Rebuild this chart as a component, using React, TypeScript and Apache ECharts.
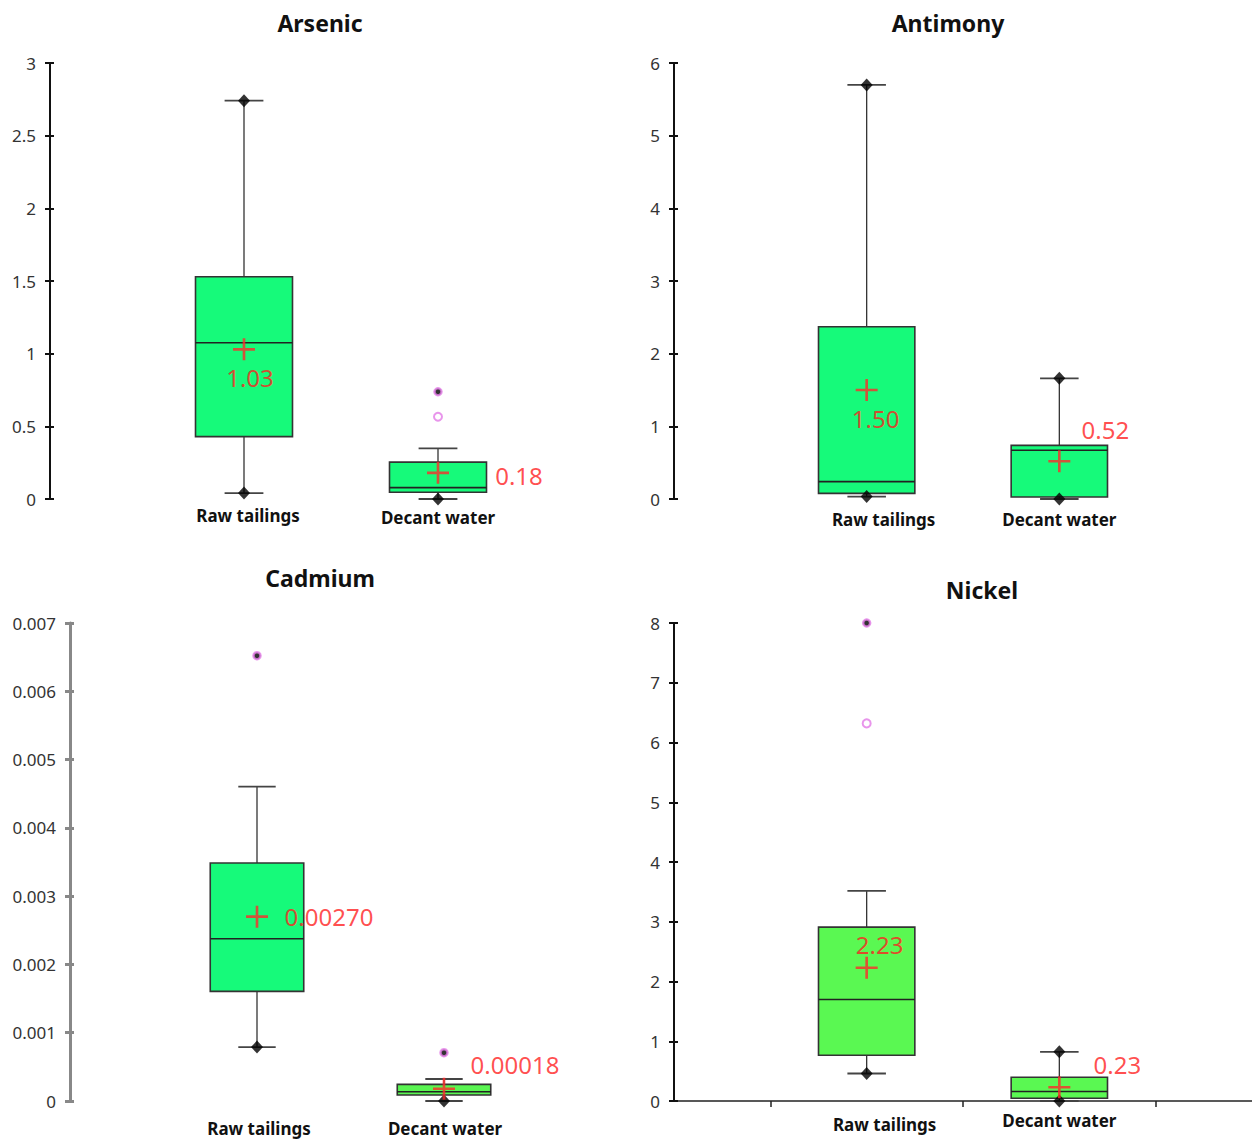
import React, { useEffect, useRef } from 'react';
import * as echarts from 'echarts';

const categories = ['Raw tailings', 'Decant water'];
const panelTitles = ['Arsenic', 'Antimony', 'Cadmium', 'Nickel'];

// [lower whisker, Q1, median, Q3, upper whisker] for Raw tailings, Decant water
const arsenicBox = [[0.041, 0.429, 1.075, 1.529, 2.741], [0, 0.046, 0.078, 0.254, 0.349]];
const antimonyBox = [[0.033, 0.078, 0.239, 2.37, 5.698], [0, 0.028, 0.67, 0.738, 1.66]];
const cadmiumBox = [[0.00079, 0.001606, 0.002377, 0.003485, 0.004603], [0, 0.000088, 0.000136, 0.000244, 0.000322]];
const nickelBox = [[0.46, 0.765, 1.7, 2.91, 3.516], [0, 0.045, 0.16, 0.397, 0.823]];

// means
const arsenicMean = [1.03, 0.18];
const antimonyMean = [1.5, 0.52];
const cadmiumMean = [0.0027, 0.00018];
const nickelMean = [2.23, 0.23];
const arsenicMeanLabels = ['1.03', '0.18'];
const antimonyMeanLabels = ['1.50', '0.52'];
const cadmiumMeanLabels = ['0.00270', '0.00018'];
const nickelMeanLabels = ['2.23', '0.23'];

// minimum / maximum markers (diamonds)
const arsenicExtremes = [[0.041, 2.741], [0]];
const antimonyExtremes = [[0.033, 5.698], [0, 1.66]];
const cadmiumExtremes = [[0.00079], [0]];
const nickelExtremes = [[0.46], [0, 0.823]];

// outliers that are the maximum (filled dot)
const arsenicMaxOutliers = [[], [0.738]];
const antimonyMaxOutliers = [[], []];
const cadmiumMaxOutliers = [[0.006521], [0.000707]];
const nickelMaxOutliers = [[8.0], []];

// other outliers (open circles)
const arsenicOutliers = [[], [0.566]];
const antimonyOutliers = [[], []];
const cadmiumOutliers = [[], []];
const nickelOutliers = [[6.32], []];

// y axis ticks
const yMaxes = [3, 6, 0.007, 8];
const yIntervals = [0.5, 1, 0.001, 1];

const boxes = [arsenicBox, antimonyBox, cadmiumBox, nickelBox];
const means = [arsenicMean, antimonyMean, cadmiumMean, nickelMean];
const meanLabels = [arsenicMeanLabels, antimonyMeanLabels, cadmiumMeanLabels, nickelMeanLabels];
const extremes = [arsenicExtremes, antimonyExtremes, cadmiumExtremes, nickelExtremes];
const maxOutliers = [arsenicMaxOutliers, antimonyMaxOutliers, cadmiumMaxOutliers, nickelMaxOutliers];
const outliers = [arsenicOutliers, antimonyOutliers, cadmiumOutliers, nickelOutliers];

// ---- layout & style (not data) ----
const FONT = "'Noto Sans', 'DejaVu Sans', sans-serif";
const CROSS = 'path://M8.8,0h2.4v8.8h8.8v2.4h-8.8v8.8h-2.4v-8.8h-8.8v-2.4h8.8z';
const slotIndex = [2, 4];
const slots = ['s0', 's1', categories[0], 's3', categories[1], 's5', 's6'];
const grids = [
  { left: 50, top: 63, width: 582, height: 436 },
  { left: 674, top: 63, width: 578, height: 436 },
  { left: 70, top: 623, width: 561, height: 478 },
  { left: 674, top: 623, width: 578, height: 478 },
];
const titlePos = [[320, 23], [948, 23], [320, 578], [982, 590]];
const boxFills = [
  ['#16FA7A', '#16FA7A'],
  ['#16FA7A', '#16FA7A'],
  ['#16FA7A', '#5AF552'],
  ['#5AF852', '#5AF852'],
];
const axisColors = ['#111', '#111', '#888', '#111'];
const axisWidths = [2, 2, 3, 2];
// [margin, raw dx, raw dy, decant dx, decant dy]
const catLabelPos = [
  [8, 4, 0, 0, 2],
  [12, 17, 0, 0, 0],
  [19, 2, 0, 1, 0],
  [11, 18, 4, 0, 0],
];
const meanOffsets = [
  [[6, 28], [81, 3]],
  [[9, 28], [46, -32]],
  [[72, 0], [71, -24]],
  [[13, -23], [58, -23]],
];

function boxRenderer(fills: string[]) {
  return (params: any, api: any) => {
    const x = api.value(0);
    const k = params.dataIndex;
    const lo = api.coord([x, api.value(1)]);
    const q1 = api.coord([x, api.value(2)]);
    const md = api.coord([x, api.value(3)]);
    const q3 = api.coord([x, api.value(4)]);
    const hi = api.coord([x, api.value(5)]);
    const step = Math.abs(api.coord([x + 1, 0])[0] - api.coord([x, 0])[0]);
    const bw = step;
    const cw = step * 0.4;
    const cx = q1[0];
    const line = (x1: number, y1: number, x2: number, y2: number, w: number, c: string) => ({
      type: 'line',
      shape: { x1, y1, x2, y2 },
      style: { stroke: c, lineWidth: w },
    });
    return {
      type: 'group',
      children: [
        line(cx, lo[1], cx, q1[1], 1.3, '#333'),
        line(cx, q3[1], cx, hi[1], 1.3, '#333'),
        line(cx - cw / 2, lo[1], cx + cw / 2, lo[1], 1.8, '#444'),
        line(cx - cw / 2, hi[1], cx + cw / 2, hi[1], 1.8, '#444'),
        {
          type: 'rect',
          shape: { x: cx - bw / 2, y: q3[1], width: bw, height: q1[1] - q3[1] },
          style: { fill: fills[k], stroke: '#333', lineWidth: 1.6 },
        },
        line(cx - bw / 2, md[1], cx + bw / 2, md[1], 1.6, '#222'),
      ],
    };
  };
}

function buildOption() {
  const xAxis: any[] = [];
  const yAxis: any[] = [];
  const series: any[] = [];

  for (let i = 0; i < 4; i++) {
    const [margin, rdx, rdy, ddx, ddy] = catLabelPos[i];
    const isNickel = i === 3;
    xAxis.push({
      gridIndex: i,
      type: 'category',
      data: slots,
      boundaryGap: false,
      axisLine: { show: isNickel, onZero: false, lineStyle: { color: '#222', width: 1.5 } },
      axisTick: {
        show: isNickel,
        length: 6,
        interval: (idx: number) => idx % 2 === 1,
        lineStyle: { color: '#222', width: 1.5 },
      },
      axisLabel: {
        show: true,
        interval: (idx: number) => idx === 2 || idx === 4,
        margin,
        formatter: (v: string) =>
          v === categories[0] ? `{r|${v}}` : v === categories[1] ? `{d|${v}}` : '',
        rich: {
          r: { padding: [rdy, 0, 0, 2 * rdx], fontSize: 17, fontWeight: 'bold', color: '#111', fontFamily: FONT },
          d: { padding: [ddy, 0, 0, 2 * ddx], fontSize: 17, fontWeight: 'bold', color: '#111', fontFamily: FONT },
        },
      },
      splitLine: { show: false },
    });

    const fmt = (v: number) => (i === 2 ? (v === 0 ? '0' : v.toFixed(3)) : String(v));
    yAxis.push({
      gridIndex: i,
      type: 'value',
      position: 'left',
      min: 0,
      max: yMaxes[i],
      interval: yIntervals[i],
      axisLine: { show: true, onZero: false, lineStyle: { color: axisColors[i], width: axisWidths[i] } },
      axisTick: { show: true, length: 5, lineStyle: { color: axisColors[i], width: axisWidths[i] } },
      axisLabel: { margin: 14, fontSize: 17, color: '#333', fontFamily: FONT, formatter: fmt },
      splitLine: { show: false },
    });
    yAxis.push({
      gridIndex: i,
      type: 'value',
      position: 'left',
      min: 0,
      max: yMaxes[i],
      interval: yIntervals[i],
      axisLine: { show: false, onZero: false },
      axisTick: { show: true, inside: true, length: 4, lineStyle: { color: axisColors[i], width: axisWidths[i] } },
      axisLabel: { show: false },
      splitLine: { show: false },
    });

    const yIdx = 2 * i;
    series.push({
      type: 'custom',
      xAxisIndex: i,
      yAxisIndex: yIdx,
      z: 2,
      encode: { x: 0, y: [1, 2, 3, 4, 5] },
      data: boxes[i].map((b, k) => [slotIndex[k], ...b]),
      renderItem: boxRenderer(boxFills[i]),
    });

    const extData: number[][] = [];
    extremes[i].forEach((vals, k) => vals.forEach((v) => extData.push([slotIndex[k], v])));
    series.push({
      type: 'scatter',
      xAxisIndex: i,
      yAxisIndex: yIdx,
      z: 4,
      symbol: 'diamond',
      symbolSize: [12, 13],
      itemStyle: { color: '#000' },
      data: extData,
    });

    const maxData: number[][] = [];
    maxOutliers[i].forEach((vals, k) => vals.forEach((v) => maxData.push([slotIndex[k], v])));
    series.push({
      type: 'scatter',
      xAxisIndex: i,
      yAxisIndex: yIdx,
      z: 4,
      symbol: 'circle',
      symbolSize: 7,
      itemStyle: { color: '#000', borderColor: '#E27AE6', borderWidth: 2.5 },
      data: maxData,
    });

    const outData: number[][] = [];
    outliers[i].forEach((vals, k) => vals.forEach((v) => outData.push([slotIndex[k], v])));
    series.push({
      type: 'scatter',
      xAxisIndex: i,
      yAxisIndex: yIdx,
      z: 4,
      symbol: 'circle',
      symbolSize: 8,
      itemStyle: { color: '#fff', borderColor: '#E27AE6', borderWidth: 2 },
      data: outData,
    });

    series.push({
      type: 'scatter',
      xAxisIndex: i,
      yAxisIndex: yIdx,
      z: 5,
      symbol: CROSS,
      symbolSize: 22,
      itemStyle: { color: '#FF2B2B' },
      label: {
        show: true,
        position: 'inside',
        fontSize: 24,
        color: '#FF1F1F',
        fontFamily: FONT,
      },
      data: means[i].map((m, k) => ({
        value: [slotIndex[k], m],
        label: { formatter: meanLabels[i][k], offset: meanOffsets[i][k] },
      })),
    });
  }

  return {
    animation: false,
    backgroundColor: '#fff',
    grid: grids.map((g) => ({ ...g, containLabel: false })),
    xAxis,
    yAxis,
    series,
    graphic: panelTitles.map((t, i) => ({
      type: 'text',
      x: titlePos[i][0],
      y: titlePos[i][1],
      style: {
        text: t,
        align: 'center',
        verticalAlign: 'middle',
        fontSize: 23,
        fontWeight: 'bold',
        fill: '#111',
        fontFamily: FONT,
      },
    })),
  };
}

export default function App() {
  const ref = useRef<HTMLDivElement>(null);
  useEffect(() => {
    if (!ref.current) return;
    const chart = echarts.init(ref.current, undefined, { renderer: 'svg' });
    chart.setOption(buildOption() as any);
    return () => chart.dispose();
  }, []);
  return (
    <div
      ref={ref}
      style={{ position: 'absolute', left: 0, top: 0, width: 1252, height: 1139, background: '#fff' }}
    />
  );
}
